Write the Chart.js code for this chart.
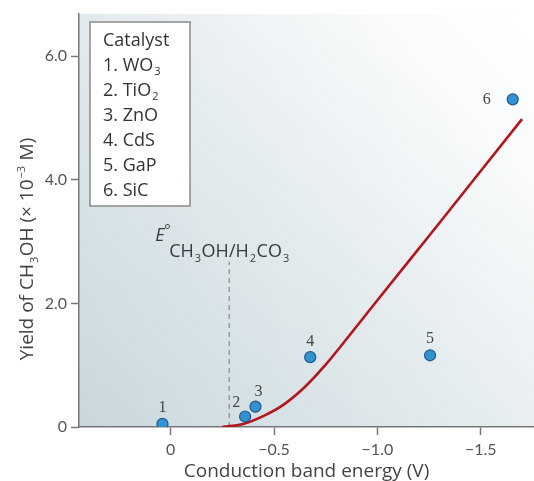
<!DOCTYPE html>
<html>
<head>
<meta charset="utf-8">
<script src="https://cdn.jsdelivr.net/npm/chart.js@4.4.1/dist/chart.umd.min.js"></script>
<style>
  html, body { margin: 0; padding: 0; background: #fff; overflow: hidden; }
  #wrap { width: 534px; height: 481px; }
</style>
</head>
<body>
<div id="wrap"><canvas id="chart"></canvas></div>
<script>
// catalysts (numbered points)
const catalystNumbers = ['1', '2', '3', '4', '5', '6'];
const catalystNames = ['WO', 'TiO', 'ZnO', 'CdS', 'GaP', 'SiC'];
const catalystSubs = ['3', '2', '', '', '', ''];
const bandEnergy = [0.04, -0.36, -0.41, -0.675, -1.255, -1.655];
const methanolYield = [0.05, 0.17, 0.33, 1.13, 1.16, 5.30];

// red trend curve
const fitEnergy = [-0.25, -0.35, -0.45, -0.55, -0.65, -0.75, -0.85, -1.00, -1.30, -1.70];
const fitYield = [0, 0.05, 0.18, 0.37, 0.65, 1.01, 1.42, 2.05, 3.30, 4.98];

// E° CH3OH/H2CO3 marker
const redoxEnergy = [-0.283, -0.283];
const redoxYield = [0, 2.67];

const xTicks = [0, -0.5, -1.0, -1.5];
const xTickLabels = ['0', '−0.5', '−1.0', '−1.5'];
const yTicks = [0, 2, 4, 6];
const yTickLabels = ['0', '2.0', '4.0', '6.0'];

const SANS = '"Open Sans", "DejaVu Sans", sans-serif';
const TICKS = 'Lato, "Open Sans", sans-serif';
const SERIF = '"Liberation Serif", serif';
const labelShift = [[0, -16], [-9, -14], [3, -15], [0, -15], [0, -16], [-26, 0]];

// draws runs like [['CH', 'n'], ['3', 'sub']] starting at x (left aligned) or centred
function richWidth(ctx, runs, size, family) {
    let w = 0;
    runs.forEach(([t, k]) => {
        ctx.font = (k === 'n' ? size : Math.round(size * 0.6)) + 'px ' + family;
        w += ctx.measureText(t).width + (k === 'n' ? 0 : 1.5);
    });
    return w;
}
function drawRich(ctx, runs, x, y, size, family, center) {
    if (center) x -= richWidth(ctx, runs, size, family) / 2;
    ctx.textAlign = 'left';
    ctx.textBaseline = 'alphabetic';
    runs.forEach(([t, k]) => {
        let dy = 0;
        if (k === 'n') {
            ctx.font = size + 'px ' + family;
        } else {
            ctx.font = Math.round(size * 0.6) + 'px ' + family;
            dy = k === 'sub' ? size * 0.27 : -size * 0.42;
            x += 1;
        }
        ctx.fillText(t, x, y + dy);
        x += ctx.measureText(t).width + (k === 'n' ? 0 : 0.5);
    });
}

const decorations = {
    id: 'decorations',
    beforeDraw(chart) {
        const { ctx, chartArea: a } = chart;
        const g = ctx.createLinearGradient(a.left, a.bottom, a.right, a.top);
        g.addColorStop(0, '#c8d7dc');
        g.addColorStop(0.45, '#e2eaed');
        g.addColorStop(0.8, '#f8fafb');
        g.addColorStop(1, '#ffffff');
        ctx.save();
        ctx.fillStyle = g;
        ctx.fillRect(a.left, a.top, a.right - a.left, a.bottom - a.top);
        ctx.restore();
    },
    afterDatasetsDraw(chart) {
        const { ctx, chartArea: a, scales: { x, y } } = chart;
        ctx.save();

        // numbers next to the points
        ctx.fillStyle = '#444';
        ctx.font = '16px ' + SERIF;
        ctx.textAlign = 'center';
        ctx.textBaseline = 'middle';
        catalystNumbers.forEach((n, i) => {
            const px = x.getPixelForValue(bandEnergy[i]) + labelShift[i][0];
            const py = y.getPixelForValue(methanolYield[i]) + labelShift[i][1];
            ctx.fillText(n, px, py);
        });

        // E° label above the dashed line
        const lx = x.getPixelForValue(redoxEnergy[0]);
        const ly = y.getPixelForValue(redoxYield[1]);
        ctx.fillStyle = '#3a3a3a';
        ctx.textAlign = 'left';
        ctx.textBaseline = 'alphabetic';
        ctx.font = 'italic 18px ' + SANS;
        ctx.fillText('E', lx - 74, ly - 21);
        ctx.font = '15px ' + SANS;
        ctx.fillText('°', lx - 65, ly - 27);
        drawRich(ctx, [['CH', 'n'], ['3', 'sub'], ['OH/H', 'n'], ['2', 'sub'], ['CO', 'n'], ['3', 'sub']],
            lx - 60, ly - 5, 18, SANS, false);

        // catalyst box
        const bx = a.left + 11, by = a.top + 8;
        ctx.fillStyle = '#fff';
        ctx.fillRect(bx, by, 100, 184);
        ctx.strokeStyle = '#8a8a8a';
        ctx.lineWidth = 1.5;
        ctx.strokeRect(bx, by, 100, 184);
        ctx.fillStyle = '#333';
        ctx.font = '18px ' + SANS;
        ctx.fillText('Catalyst', bx + 13, by + 23.5);
        catalystNames.forEach((nm, i) => {
            const runs = [[catalystNumbers[i] + '. ' + nm, 'n']];
            if (catalystSubs[i]) runs.push([catalystSubs[i], 'sub']);
            drawRich(ctx, runs, bx + 13, by + 48.5 + i * 25, 18, SANS, false);
        });

        // axis titles
        ctx.fillStyle = '#444';
        drawRich(ctx, [['Conduction band energy (V)', 'n']], (a.left + a.right) / 2, 477, 19, SANS, true);
        ctx.translate(33, 249);
        ctx.rotate(-Math.PI / 2);
        drawRich(ctx, [['Yield of CH', 'n'], ['3', 'sub'], ['OH (× 10', 'n'], ['−3', 'sup'], [' M)', 'n']],
            0, 0, 19, SANS, true);
        ctx.restore();
    }
};

const axisCommon = {
    grid: { drawOnChartArea: false, drawTicks: true, tickLength: 8, tickColor: '#777', tickWidth: 1.5 },
    border: { display: true, color: '#777', width: 1.5 },
    ticks: { color: '#555', font: { family: TICKS, size: 16 } }
};

new Chart(document.getElementById('chart'), {
    type: 'scatter',
    data: {
        datasets: [
            {
                data: bandEnergy.map((v, i) => ({ x: v, y: methanolYield[i] })),
                pointRadius: 5.5,
                backgroundColor: '#3592d2',
                borderColor: '#1d5a88',
                borderWidth: 1.2
            },
            {
                type: 'line',
                data: fitEnergy.map((v, i) => ({ x: v, y: fitYield[i] })),
                borderColor: '#b3151c',
                borderWidth: 2.6,
                pointRadius: 0,
                fill: false,
                tension: 0.4
            },
            {
                type: 'line',
                data: redoxEnergy.map((v, i) => ({ x: v, y: redoxYield[i] })),
                borderColor: '#8c8c8c',
                borderWidth: 1.2,
                borderDash: [5, 4],
                pointRadius: 0,
                fill: false
            }
        ]
    },
    options: {
        responsive: true,
        maintainAspectRatio: false,
        animation: false,
        layout: { autoPadding: false, padding: { top: 14, right: 0, bottom: 0, left: 0 } },
        plugins: { legend: { display: false }, tooltip: { enabled: false } },
        scales: {
            x: {
                ...axisCommon,
                type: 'linear',
                reverse: true,
                min: -1.758,
                max: 0.444,
                afterBuildTicks: s => { s.ticks = xTicks.map(v => ({ value: v })); },
                afterFit: s => { s.height = 54; },
                ticks: { ...axisCommon.ticks, padding: 5, maxRotation: 0, callback: (v, i) => xTickLabels[i] }
            },
            y: {
                ...axisCommon,
                type: 'linear',
                min: 0,
                max: 6.68,
                afterBuildTicks: s => { s.ticks = yTicks.map(v => ({ value: v })); },
                afterFit: s => { s.width = 79; },
                ticks: { ...axisCommon.ticks, padding: 4, callback: (v, i) => yTickLabels[i] }
            }
        }
    },
    plugins: [decorations]
});
</script>
</body>
</html>
